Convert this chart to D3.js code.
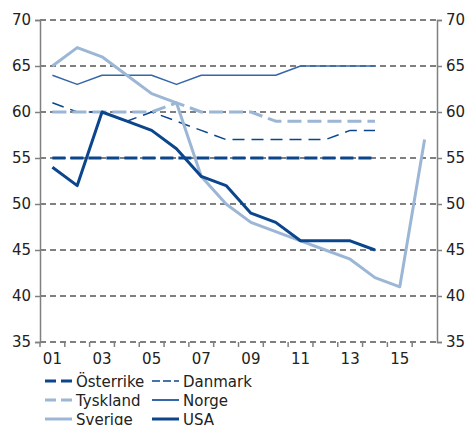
<!DOCTYPE html>
<html><head><meta charset="utf-8">
<script src="https://cdn.jsdelivr.net/npm/d3@7"></script>
<style>body{margin:0;background:#fff}svg{display:block}text{font-family:"DejaVu Sans",Verdana,sans-serif}</style>
</head><body>
<svg id="c" width="470" height="425"></svg>
<script>
const years = ["01","02","03","04","05","06","07","08","09","10","11","12","13","14","15","16"];
const tickLabels = ["01","03","05","07","09","11","13","15"];
const yTicks = [35,40,45,50,55,60,65,70];
const osterrike = [55,55,55,55,55,55,55,55,55,55,55,55,55,55,null,null];
const danmark   = [61,60,60,59,60,59,58,57,57,57,57,57,58,58,null,null];
const tyskland  = [60,60,60,60,60,61,60,60,60,59,59,59,59,59,null,null];
const norge     = [64,63,64,64,64,63,64,64,64,64,65,65,65,65,null,null];
const sverige   = [65,67,66,64,62,61,53,50,48,47,46,45,44,42,41,57];
const usa       = [54,52,60,59,58,56,53,52,49,48,46,46,46,45,null,null];

const DARK="#0b468c", LIGHT="#9cb6d5", MID="#3566a8";
const series = [
  {name:"Österrike", values:osterrike, color:DARK, w:3, dash:"13,5", ldash:"11,5"},
  {name:"Danmark", values:danmark, color:DARK, w:1.5, dash:"12,7", ldash:"8,3"},
  {name:"Tyskland", values:tyskland, color:LIGHT, w:3, dash:"14,6", ldash:"11,5"},
  {name:"Norge", values:norge, color:MID, w:1.5, lw:2, dash:null},
  {name:"Sverige", values:sverige, color:LIGHT, w:3, dash:null},
  {name:"USA", values:usa, color:DARK, w:3, dash:null}
];
const drawOrder = ["Österrike","Danmark","Norge","Tyskland","Sverige","USA"];

const svg = d3.select("#c");
const L=40, R=437, T=20, B=342;
const x = d3.scaleBand().domain(years).range([L,R]);
const y = d3.scaleLinear().domain([35,70]).range([B,T]);

// grid
svg.append("g").selectAll("line").data(yTicks).join("line")
  .attr("x1",L).attr("x2",R).attr("y1",d=>y(d)).attr("y2",d=>y(d))
  .attr("stroke","#808080").attr("stroke-width",2).attr("stroke-dasharray","6,4");

// axes
const gl = svg.append("g").attr("transform",`translate(${L},0)`)
  .call(d3.axisLeft(y).tickValues(yTicks).tickSize(5).tickPadding(4));
const gr = svg.append("g").attr("transform",`translate(${R},0)`)
  .call(d3.axisRight(y).tickValues(yTicks).tickSize(5).tickPadding(4));
[gl,gr].forEach(g=>{
  g.select(".domain").attr("stroke","#808080").attr("stroke-width",1.5);
  g.selectAll(".tick line").attr("stroke","#808080").attr("stroke-width",1.5);
  g.selectAll(".tick text").attr("font-size",15).attr("fill","#222")
    .attr("font-family",'"DejaVu Sans",Verdana,sans-serif');
});

// x axis ticks at band boundaries
const bounds = years.slice(1).map(d=>x(d));
svg.append("g").selectAll("line").data([L,...bounds]).join("line")
  .attr("x1",d=>d).attr("x2",d=>d).attr("y1",B).attr("y2",B+5)
  .attr("stroke","#808080").attr("stroke-width",1.5);
svg.append("g").selectAll("text").data(tickLabels).join("text")
  .attr("x",d=>x(d)+x.bandwidth()/2).attr("y",B+22)
  .attr("text-anchor","middle").attr("font-size",15).attr("fill","#222").text(d=>d);

// lines
const line = d3.line().defined(d=>d.v!=null)
  .x(d=>x(d.k)+x.bandwidth()/2).y(d=>y(d.v));
drawOrder.forEach(n=>{
  const s = series.find(s=>s.name===n);
  svg.append("path").datum(years.map((k,i)=>({k,v:s.values[i]})))
    .attr("d",line).attr("fill","none").attr("stroke",s.color)
    .attr("stroke-width",s.w).attr("stroke-dasharray",s.dash)
    .attr("stroke-linejoin","round");
});

// legend
const lg = svg.append("g");
series.forEach((s,i)=>{
  const col=i%2, row=Math.floor(i/2);
  const lx = col===0?45:152, ly = 381+row*19;
  lg.append("line").attr("x1",lx).attr("x2",lx+27).attr("y1",ly).attr("y2",ly)
    .attr("stroke",s.color).attr("stroke-width",s.lw||s.w)
    .attr("stroke-dasharray",s.ldash||null);
  lg.append("text").attr("x",lx+31).attr("y",ly+5.5).attr("font-size",15)
    .attr("fill","#222").text(s.name);
});
</script>
</body></html>
